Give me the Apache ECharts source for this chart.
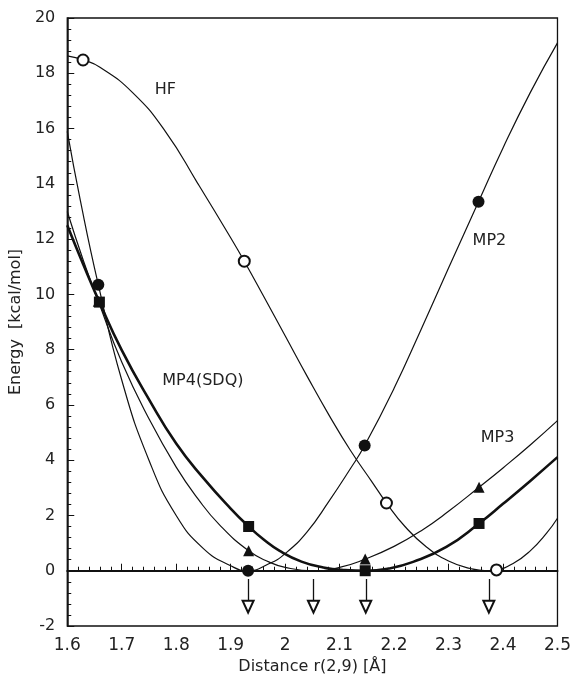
<!DOCTYPE html>
<html>
<head>
<meta charset="utf-8">
<script src="https://cdn.jsdelivr.net/npm/echarts@6/dist/echarts.min.js"></script>
<style>
 html, body { margin: 0; padding: 0; background: #fff; }
 #chart { width: 574px; height: 681px; }
</style>
</head>
<body>
<div id="chart"></div>
<script>
// curves, [r, energy]
const hfCurve = [[1.6, 18.63], [1.63, 18.48], [1.66, 18.22], [1.72, 17.3], [1.78, 15.9], [1.84, 14.0], [1.9, 12.05], [1.925, 11.2], [1.96, 9.95], [2.0, 8.5], [2.04, 7.05], [2.08, 5.65], [2.12, 4.35], [2.16, 3.2], [2.186, 2.45], [2.22, 1.6], [2.26, 0.85], [2.3, 0.35], [2.34, 0.08], [2.37, 0.0], [2.388, 0.03], [2.42, 0.28], [2.45, 0.72], [2.48, 1.36], [2.5, 1.9]]
const mp2Curve = [[1.6, 15.9], [1.624, 13.4], [1.657, 10.35], [1.7, 6.9], [1.75, 4.0], [1.8, 2.0], [1.85, 0.8], [1.9, 0.18], [1.932, 0], [1.97, 0.25], [2.0, 0.62], [2.04, 1.4], [2.08, 2.5], [2.12, 3.7], [2.146, 4.53], [2.2, 6.6], [2.25, 8.75], [2.3, 10.95], [2.355, 13.35], [2.4, 15.3], [2.45, 17.3], [2.5, 19.1]]
const mp3Curve = [[1.6, 13.0], [1.63, 11.2], [1.657, 9.75], [1.7, 7.55], [1.75, 5.5], [1.8, 3.75], [1.84, 2.6], [1.88, 1.65], [1.933, 0.72], [1.97, 0.32], [2.0, 0.12], [2.052, 0], [2.1, 0.12], [2.147, 0.42], [2.2, 0.88], [2.25, 1.45], [2.3, 2.15], [2.356, 3.02], [2.4, 3.72], [2.45, 4.55], [2.5, 5.43]]
const mp4Curve = [[1.6, 12.5], [1.63, 11.05], [1.659, 9.72], [1.7, 7.98], [1.75, 6.2], [1.8, 4.6], [1.85, 3.35], [1.9, 2.25], [1.933, 1.6], [1.96, 1.14], [1.99, 0.72], [2.03, 0.33], [2.07, 0.12], [2.11, 0.025], [2.147, 0], [2.19, 0.08], [2.235, 0.32], [2.296, 0.86], [2.356, 1.71], [2.4, 2.42], [2.45, 3.25], [2.5, 4.11]]

// calculated points (markers)
const hfPoints = [[1.629, 18.48], [1.925, 11.2], [2.186, 2.45], [2.388, 0.03]]
const mp2Points = [[1.657, 10.35], [1.932, 0], [2.146, 4.53], [2.355, 13.35]]
const mp3Points = [[1.657, 9.75], [1.933, 0.72], [2.147, 0.42], [2.356, 3.02]]
const mp4Points = [[1.659, 9.72], [1.933, 1.6], [2.147, 0], [2.356, 1.71]]

// minima marked by arrows
const minimaX = [1.932, 2.052, 2.148, 2.374]
const arrowFrom = -0.3
const arrowTo = -1.3

const xTicks = { min: 1.6, max: 2.5, step: 0.1 }
const yTicks = { min: -2, max: 20, step: 2 }

const font = 'DejaVu Sans'
const ink = '#111'

const curve = (name, data, width) => ({
 name: name,
 type: 'line',
 data: data,
 smooth: 0.5,
 showSymbol: false,
 lineStyle: { color: ink, width: width },
 z: 2
})
const marks = (name, data, symbol, size) => ({
 name: name,
 type: 'scatter',
 data: data,
 symbol: symbol,
 symbolSize: size,
 itemStyle: symbol === 'emptyCircle'
  ? { color: ink, borderColor: ink, borderWidth: 1.3, opacity: 1 }
  : { color: ink, opacity: 1 },
 z: 4
})
const label = (text, x, y) => ({
 coord: [x, y],
 symbol: 'circle',
 symbolSize: 2,
 itemStyle: { color: 'rgba(0,0,0,0)' },
 label: { show: true, formatter: text, fontFamily: font, fontSize: 16, color: '#222', position: 'inside' }
})

const option = {
 animation: false,
 backgroundColor: '#fff',
 grid: { left: 67, right: 16, top: 18, bottom: 55, show: true, borderColor: ink, borderWidth: 1.3 },
 xAxis: {
  type: 'value',
  min: xTicks.min,
  max: xTicks.max,
  interval: xTicks.step,
  name: 'Distance r(2,9) [Å]',
  nameLocation: 'middle',
  nameGap: 30,
  nameTextStyle: { fontFamily: font, fontSize: 16, color: '#222' },
  axisLine: { lineStyle: { color: ink, width: 2 } },
  axisTick: { inside: true, length: 7, lineStyle: { color: ink } },
  minorTick: { show: true, splitNumber: 5, length: 4, lineStyle: { color: ink } },
  axisLabel: { fontFamily: font, fontSize: 17, color: '#222', margin: 11 },
  splitLine: { show: false }
 },
 yAxis: {
  type: 'value',
  min: yTicks.min,
  max: yTicks.max,
  interval: yTicks.step,
  name: 'Energy  [kcal/mol]',
  nameLocation: 'middle',
  nameGap: 38,
  nameTextStyle: { fontFamily: font, fontSize: 16, color: '#222' },
  axisLine: { lineStyle: { color: ink, width: 1.5 } },
  axisTick: { inside: true, length: 7, lineStyle: { color: ink } },
  minorTick: { show: true, splitNumber: 5, length: 4, lineStyle: { color: ink } },
  axisLabel: { fontFamily: font, fontSize: 16, color: '#222', margin: 12 },
  splitLine: { show: false }
 },
 series: [
  Object.assign(curve('HF', hfCurve, 1.2), {
   markPoint: {
    silent: true,
    data: [
     label('HF', 1.78, 17.39),
     label('MP2', 2.375, 11.92),
     label('MP3', 2.39, 4.82),
     label('MP4(SDQ)', 1.849, 6.88)
    ]
   },
   markLine: {
    silent: true,
    symbol: ['none', 'emptyTriangle'],
    symbolSize: [11, 12],
    label: { show: false },
    lineStyle: { color: ink, width: 1.3, type: 'solid' },
    data: minimaX.map(x => [{ coord: [x, arrowFrom] }, { coord: [x, arrowTo] }])
   }
  }),
  curve('MP2', mp2Curve, 1.2),
  curve('MP3', mp3Curve, 1.2),
  curve('MP4(SDQ)', mp4Curve, 2.6),
  marks('HF', hfPoints, 'emptyCircle', 11),
  marks('MP2', mp2Points, 'circle', 12),
  marks('MP3', mp3Points, 'triangle', 11),
  marks('MP4(SDQ)', mp4Points, 'rect', 11)
 ]
}

const myChart = echarts.init(document.getElementById('chart'))
myChart.setOption(option)
</script>
</body>
</html>
